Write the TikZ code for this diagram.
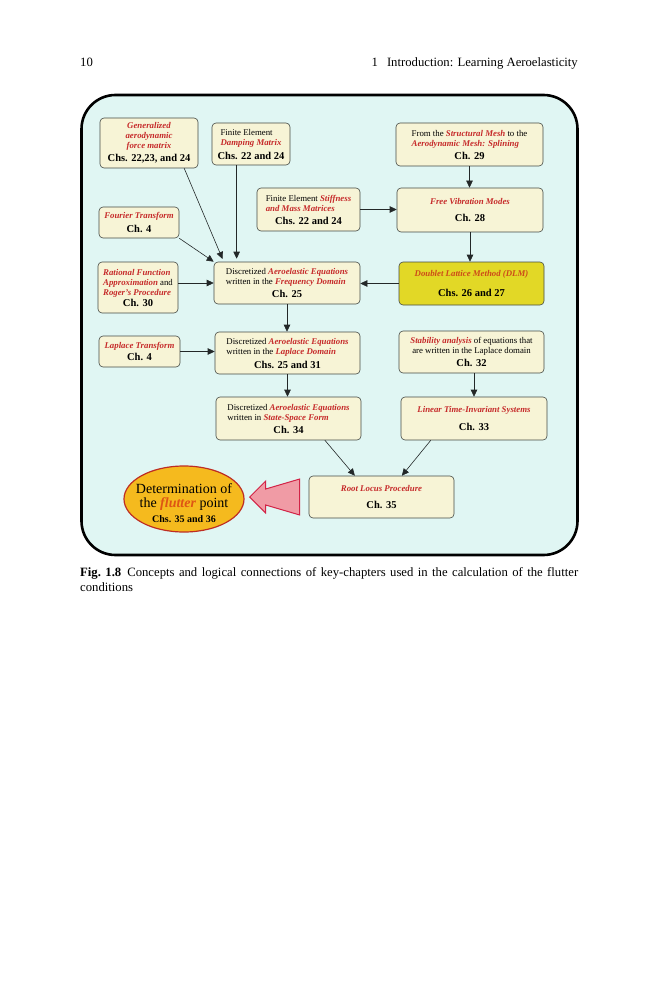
\documentclass[tikz,border=0pt]{standalone}
\usepackage{fontspec}
\setmainfont{Liberation Serif}
\usetikzlibrary{arrows.meta,shapes.geometric,calc}
\definecolor{bgc}{RGB}{224,246,243}
\definecolor{boxfill}{RGB}{247,244,214}
\definecolor{boxline}{RGB}{70,75,70}
\definecolor{redt}{RGB}{198,42,42}
\definecolor{dlmfill}{RGB}{226,216,38}
\definecolor{dlmtext}{RGB}{205,75,25}
\definecolor{ellfill}{RGB}{245,186,30}
\definecolor{elldraw}{RGB}{190,45,35}
\definecolor{flut}{RGB}{222,85,20}
\definecolor{arrfill}{RGB}{240,155,165}
\definecolor{arrdraw}{RGB}{210,35,70}
\definecolor{conn}{RGB}{35,40,40}
\newcommand{\rt}[1]{\textcolor{redt}{\textbf{\textit{#1}}}}
\newcommand{\chp}[1]{{\fontsize{10.5}{10.5}\selectfont\textbf{#1}}}
\newcommand{\lft}[1]{\begin{tabular}{@{}l@{}}#1\end{tabular}}
\begin{document}
\begin{tikzpicture}[x=1pt,y=-1pt,
  box/.style={draw=boxline, fill=boxfill, rounded corners=4pt, line width=0.6pt,
    align=center, inner sep=1pt, font=\fontsize{8.8}{10}\selectfont},
  arr/.style={draw=conn, line width=0.6pt, -{Triangle[length=7pt,width=6.5pt]}},
  hdr/.style={inner sep=0pt, font=\fontsize{12.7}{15.2}\selectfont}
]
\useasboundingbox (0,0) rectangle (659,1000);
\fill[white] (0,0) rectangle (659,1000);

% header
\node[hdr, anchor=base west] (pg) at (80,66.5) {10};
\node[hdr, anchor=base east] (hd) at (578,66.5) {1\hspace{9pt}Introduction: Learning Aeroelasticity};

% frame
\draw[line width=2.6pt, fill=bgc, rounded corners=34pt] (81.5,95) rectangle (577.5,555);

% boxes
\node[box, minimum width=98, minimum height=50] (gafm) at (149,143)
  {\rt{Generalized}\\ \rt{aerodynamic}\\ \rt{force matrix}\\[3pt] \chp{Chs. 22,23, and 24}};
\node[box, minimum width=78, minimum height=42] (damp) at (251,144)
  {\lft{Finite Element\\ \rt{Damping Matrix}}\\[2.6pt] \chp{Chs. 22 and 24}};
\node[box, minimum width=103, minimum height=43] (stiff) at (308.5,209.5)
  {\lft{Finite Element \rt{Stiffness}\\ \rt{and Mass Matrices}}\\[2.2pt] \chp{Chs. 22 and 24}};
\node[box, minimum width=80, minimum height=31] (four) at (139,222.5)
  {\rt{Fourier Transform}\\[4pt] \chp{Ch. 4}};
\node[box, minimum width=147, minimum height=43] (smesh) at (469.5,144.5)
  {\lft{From the \rt{Structural Mesh} to the\\ \rt{Aerodynamic Mesh: Splining}}\\[1.6pt] \chp{Ch. 29}};
\node[box, minimum width=146, minimum height=44] (fvm) at (470,210)
  {\rt{Free Vibration Modes}\\[6.7pt] \chp{Ch. 28}};
\node[box, minimum width=80, minimum height=51] (rfa) at (138,287.5)
  {\lft{\rt{Rational Function}\\ \rt{Approximation} and\\ \rt{Roger's Procedure}}\\[0.5pt] \chp{Ch. 30}};
\node[box, minimum width=146, minimum height=42] (freq) at (287,283)
  {\lft{Discretized \rt{Aeroelastic Equations}\\ written in the \rt{Frequency Domain}}\\[1.6pt] \chp{Ch. 25}};
\node[box, fill=dlmfill, minimum width=145, minimum height=43] (dlm) at (471.5,283.5)
  {\textcolor{dlmtext}{\textbf{\textit{Doublet Lattice Method (DLM)}}}\\[9.6pt] \chp{Chs. 26 and 27}};
\node[box, minimum width=81, minimum height=31] (lapt) at (139.5,351.5)
  {\rt{Laplace Transform}\\[2.7pt] \chp{Ch. 4}};
\node[box, minimum width=145, minimum height=42] (lapd) at (287.5,353)
  {\lft{Discretized \rt{Aeroelastic Equations}\\ written in the \rt{Laplace Domain}}\\[2.9pt] \chp{Chs. 25 and 31}};
\node[box, minimum width=145, minimum height=42] (stab) at (471.5,352)
  {\rt{Stability analysis} of equations that\\ are written in the Laplace domain\\[3.3pt] \chp{Ch. 32}};
\node[box, minimum width=145, minimum height=43] (ss) at (288.5,418.5)
  {\lft{Discretized \rt{Aeroelastic Equations}\\ written in \rt{State-Space Form}}\\[1.9pt] \chp{Ch. 34}};
\node[box, minimum width=146, minimum height=43] (lti) at (474,418.5)
  {\rt{Linear Time-Invariant Systems}\\[8.7pt] \chp{Ch. 33}};
\node[box, minimum width=145, minimum height=42] (rl) at (381.5,497)
  {\rt{Root Locus Procedure}\\[7.7pt] \chp{Ch. 35}};

\node[ellipse, draw=elldraw, fill=ellfill, line width=1.2pt, minimum width=120,
  minimum height=66, inner sep=0pt] (flut) at (184,499) {};
\node[align=center, inner sep=0pt, font=\fontsize{14}{14}\selectfont]
  (fltext) at ($(flut.center)+(0,4)$)
  {Determination of\\ the \textcolor{flut}{\textbf{\textit{flutter}}} point\\[1.5pt]
   {\fontsize{10}{10}\selectfont\textbf{Chs. 35 and 36}}};

% big arrow
\draw[fill=arrfill, draw=arrdraw, line width=1pt, line join=miter]
  ($(rl.west)+(-59,0)$) coordinate (tip) -- ++(16,-16) -- ++(0,8) -- ++(34,-10)
  -- ++(0,36) -- ++(-34,-10) -- ++(0,8) -- cycle;

% connectors
\draw[arr, shorten >=3pt] ($(gafm.south west)!0.857!(gafm.south east)$) -- ($(freq.north west)!0.068!(freq.north east)$);
\draw[arr] (four.south east) -- (freq.north west);
\draw[arr, shorten >=3pt] ($(damp.south west)!0.317!(damp.south east)$) coordinate (d1) -- (d1 |- freq.north);
\draw[arr] (stiff.east) -- (stiff.east -| fvm.west);
\draw[arr] (smesh.south) -- (smesh.south |- fvm.north);
\draw[arr] (fvm.south) -- (fvm.south |- dlm.north);
\draw[arr] (dlm.west) -- (dlm.west -| freq.east);
\draw[arr] (freq.west -| rfa.east) -- (freq.west);
\draw[arr] (freq.south) -- (freq.south |- lapd.north);
\draw[arr] (lapt.east) -- (lapt.east -| lapd.west);
\draw[arr] (lapd.south) -- (lapd.south |- ss.north);
\draw[arr] (lti.north |- stab.south) -- (lti.north);
\draw[arr] ($(ss.south west)!0.75!(ss.south east)$) -- ($(rl.north west)!0.317!(rl.north east)$);
\draw[arr] ($(lti.south west)!0.205!(lti.south east)$) -- ($(rl.north west)!0.64!(rl.north east)$);

% caption
\node[hdr, anchor=north west, text width=498, align=justify] (cap) at (80,567)
  {\textbf{Fig.~1.8}\hspace{6pt}Concepts and logical connections of key-chapters used in the calculation of the flutter\linebreak conditions};
\end{tikzpicture}
\end{document}
